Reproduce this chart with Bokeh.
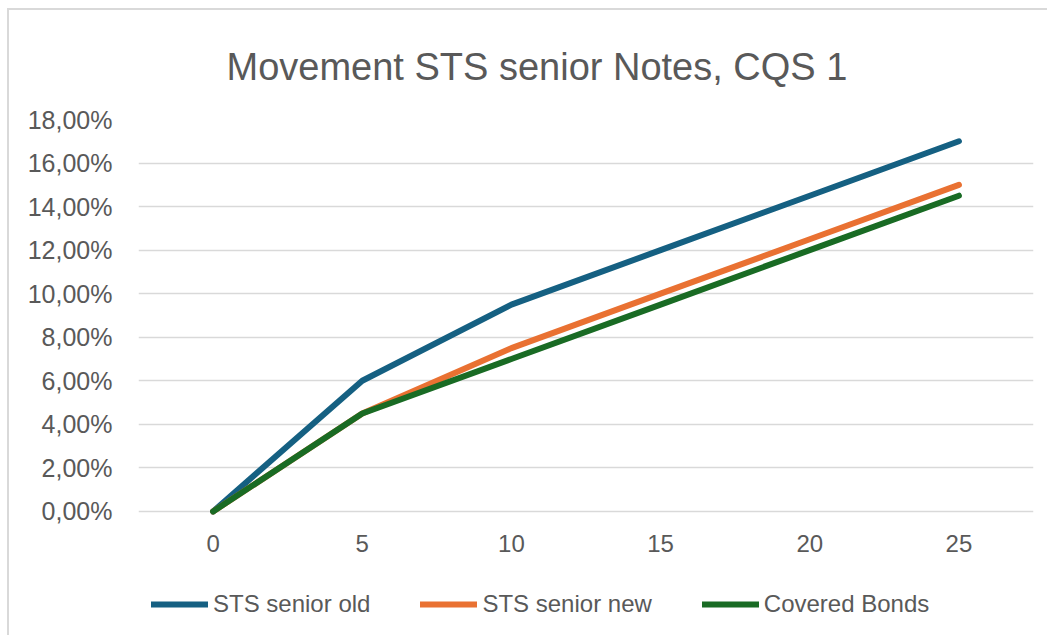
from bokeh.plotting import figure
from bokeh.models import FactorRange, Range1d, Legend, LegendItem, CustomJSTickFormatter, FixedTicker
from bokeh.embed import file_html
from bokeh.resources import INLINE

categories = ["0", "5", "10", "15", "20", "25"]
sts_senior_old = [0.0, 6.0, 9.5, 12.0, 14.5, 17.0]
sts_senior_new = [0.0, 4.5, 7.5, 10.0, 12.5, 15.0]
covered_bonds = [0.0, 4.5, 7.0, 9.5, 12.0, 14.5]
y_ticks = [0, 2, 4, 6, 8, 10, 12, 14, 16, 18]

series = [
    ("STS senior old", sts_senior_old, "#156082"),
    ("STS senior new", sts_senior_new, "#E97132"),
    ("Covered Bonds", covered_bonds, "#196B24"),
]

TXT = "#595959"
FONT = "Liberation Sans"

# frame extends below the 0% line so that the legend sits inside it
p = figure(width=1040, height=627, output_backend="svg", toolbar_location=None,
           x_range=FactorRange(*categories, range_padding=0), y_range=Range1d(-5.79, 18),
           min_border_left=129, min_border_right=16, min_border_top=109, min_border_bottom=0,
           styles={"margin-left": "7px", "margin-top": "8px",
                   "border-left": "2px solid #D9D9D9", "border-top": "2px solid #D9D9D9"})
p.outline_line_color = None
p.background_fill_color = "white"
p.border_fill_color = "white"

p.title.text = "Movement STS senior Notes, CQS 1"
p.title.align = "left"
p.title.offset = 88
p.title.standoff = 63
p.title.text_font = FONT
p.title.text_font_size = "38px"
p.title.text_font_style = "normal"
p.title.text_color = TXT

p.xgrid.grid_line_color = None
p.ygrid.grid_line_color = "#D9D9D9"
p.ygrid.grid_line_width = 1.5

p.yaxis.ticker = FixedTicker(ticks=y_ticks)
p.yaxis.formatter = CustomJSTickFormatter(code="return tick.toFixed(2).replace('.', ',') + '%';")
for ax in (p.xaxis[0], p.yaxis[0]):
    ax.axis_line_color = None
    ax.major_tick_line_color = None
    ax.minor_tick_line_color = None
    ax.major_label_text_color = TXT
    ax.major_label_text_font = FONT
    ax.major_label_text_font_size = "24px"
p.yaxis.major_label_text_font_size = "25px"
p.yaxis.major_label_standoff = 20
p.xaxis.fixed_location = 0
p.xaxis.major_label_standoff = 18

items = []
for name, vals, col in series:
    r = p.line(x=categories, y=vals, line_color=col, line_width=6,
               line_cap="round", line_join="round")
    items.append(LegendItem(label=name, renderers=[r]))

legend = Legend(items=items, orientation="horizontal", location=(13, 19),
                glyph_width=57, glyph_height=20, label_standoff=5, spacing=50,
                padding=0, margin=0, border_line_color=None, background_fill_alpha=0,
                label_text_font=FONT, label_text_font_size="24px",
                label_text_color=TXT)
p.add_layout(legend, "center")

open("out.html", "w").write(file_html(p, INLINE))
